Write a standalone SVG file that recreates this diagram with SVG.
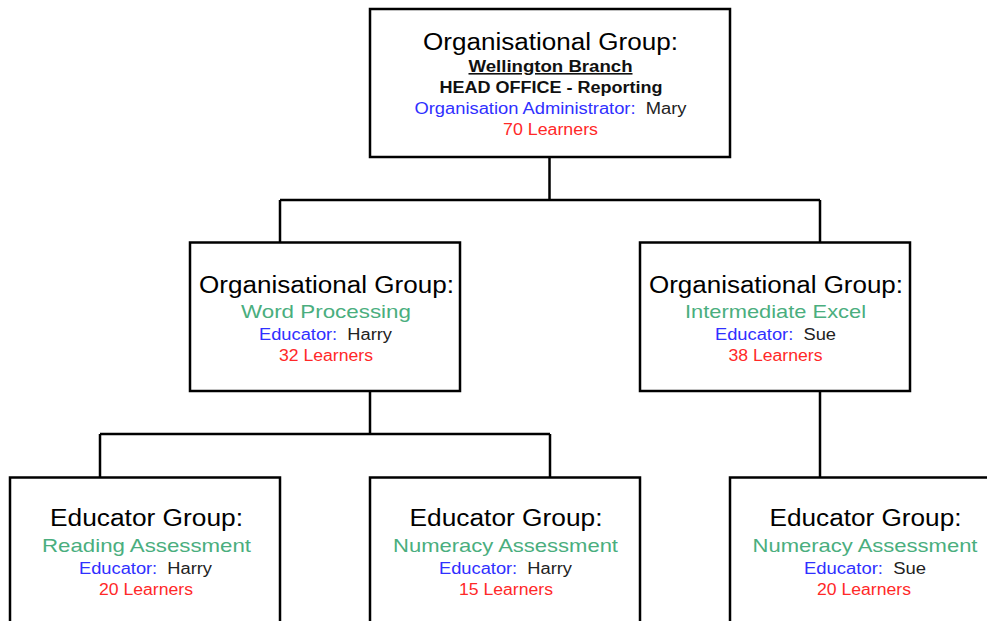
<svg xmlns="http://www.w3.org/2000/svg" width="987" height="621" viewBox="0 0 987 621">
<style>
.box{fill:#fff;stroke:#000;stroke-width:2.5}
.con{fill:none;stroke:#000;stroke-width:2.5}
text{font-family:"Liberation Sans",Arial,sans-serif;text-anchor:middle;white-space:pre}
.t{font-size:23px;fill:#000}
.s{font-size:19px;fill:#4aae7e}
.d{font-size:16px}
.b{font-size:16px;font-weight:bold;fill:#111}
.blue{fill:#3030ff}
.nm{fill:#222}
.red{fill:#ff2828}
</style>
<rect width="987" height="621" fill="#fff"/>
<g id="connectors">
<path class="con" d="M549.5 157V200M280 200H820M280 200V242.5M820 200V242.5"/>
<path class="con" d="M370 391V434M100 434H550M100 434V477.5M550 434V477.5"/>
<path class="con" d="M820 391V477.5"/>
</g>
<g id="top">
<rect class="box" x="370" y="9" width="360" height="148"/>
<text class="t" x="550.5" y="50" textLength="255" lengthAdjust="spacingAndGlyphs">Organisational Group:</text>
<text class="b" x="550.5" y="72" textLength="164" lengthAdjust="spacingAndGlyphs" text-decoration="underline">Wellington Branch</text>
<text class="b" x="551" y="93" textLength="223" lengthAdjust="spacingAndGlyphs">HEAD OFFICE - Reporting</text>
<text class="d" x="550.5" y="114" textLength="272" lengthAdjust="spacingAndGlyphs" xml:space="preserve"><tspan class="blue">Organisation Administrator:</tspan><tspan class="nm">  Mary</tspan></text>
<text class="d red" x="550.5" y="135" textLength="95" lengthAdjust="spacingAndGlyphs">70 Learners</text>
</g>
<g id="word">
<rect class="box" x="190" y="242.5" width="270" height="148.5"/>
<text class="t" x="326.5" y="293" textLength="255" lengthAdjust="spacingAndGlyphs">Organisational Group:</text>
<text class="s" x="326" y="318" textLength="170" lengthAdjust="spacingAndGlyphs">Word Processing</text>
<text class="d" x="325.5" y="340" textLength="133" lengthAdjust="spacingAndGlyphs" xml:space="preserve"><tspan class="blue">Educator:</tspan><tspan class="nm">  Harry</tspan></text>
<text class="d red" x="326" y="360.5" textLength="94" lengthAdjust="spacingAndGlyphs">32 Learners</text>
</g>
<g id="excel">
<rect class="box" x="640" y="242.5" width="270" height="148.5"/>
<text class="t" x="776" y="293" textLength="254" lengthAdjust="spacingAndGlyphs">Organisational Group:</text>
<text class="s" x="775.5" y="318" textLength="181" lengthAdjust="spacingAndGlyphs">Intermediate Excel</text>
<text class="d" x="775.5" y="340" textLength="121" lengthAdjust="spacingAndGlyphs" xml:space="preserve"><tspan class="blue">Educator:</tspan><tspan class="nm">  Sue</tspan></text>
<text class="d red" x="775.5" y="360.5" textLength="94" lengthAdjust="spacingAndGlyphs">38 Learners</text>
</g>
<g id="reading">
<rect class="box" x="10" y="477.5" width="270" height="200"/>
<text class="t" x="146.5" y="526" textLength="193" lengthAdjust="spacingAndGlyphs">Educator Group:</text>
<text class="s" x="146.5" y="552" textLength="209" lengthAdjust="spacingAndGlyphs">Reading Assessment</text>
<text class="d" x="145.5" y="573.5" textLength="133" lengthAdjust="spacingAndGlyphs" xml:space="preserve"><tspan class="blue">Educator:</tspan><tspan class="nm">  Harry</tspan></text>
<text class="d red" x="146" y="594.5" textLength="94" lengthAdjust="spacingAndGlyphs">20 Learners</text>
</g>
<g id="numeracy1">
<rect class="box" x="370" y="477.5" width="270" height="200"/>
<text class="t" x="506" y="526" textLength="193" lengthAdjust="spacingAndGlyphs">Educator Group:</text>
<text class="s" x="505.5" y="552" textLength="225" lengthAdjust="spacingAndGlyphs">Numeracy Assessment</text>
<text class="d" x="505.5" y="573.5" textLength="133" lengthAdjust="spacingAndGlyphs" xml:space="preserve"><tspan class="blue">Educator:</tspan><tspan class="nm">  Harry</tspan></text>
<text class="d red" x="506" y="594.5" textLength="94" lengthAdjust="spacingAndGlyphs">15 Learners</text>
</g>
<g id="numeracy2">
<rect class="box" x="730" y="477.5" width="270" height="200"/>
<text class="t" x="865.5" y="526" textLength="192" lengthAdjust="spacingAndGlyphs">Educator Group:</text>
<text class="s" x="865" y="552" textLength="225" lengthAdjust="spacingAndGlyphs">Numeracy Assessment</text>
<text class="d" x="865" y="573.5" textLength="122" lengthAdjust="spacingAndGlyphs" xml:space="preserve"><tspan class="blue">Educator:</tspan><tspan class="nm">  Sue</tspan></text>
<text class="d red" x="864" y="594.5" textLength="94" lengthAdjust="spacingAndGlyphs">20 Learners</text>
</g>
</svg>
